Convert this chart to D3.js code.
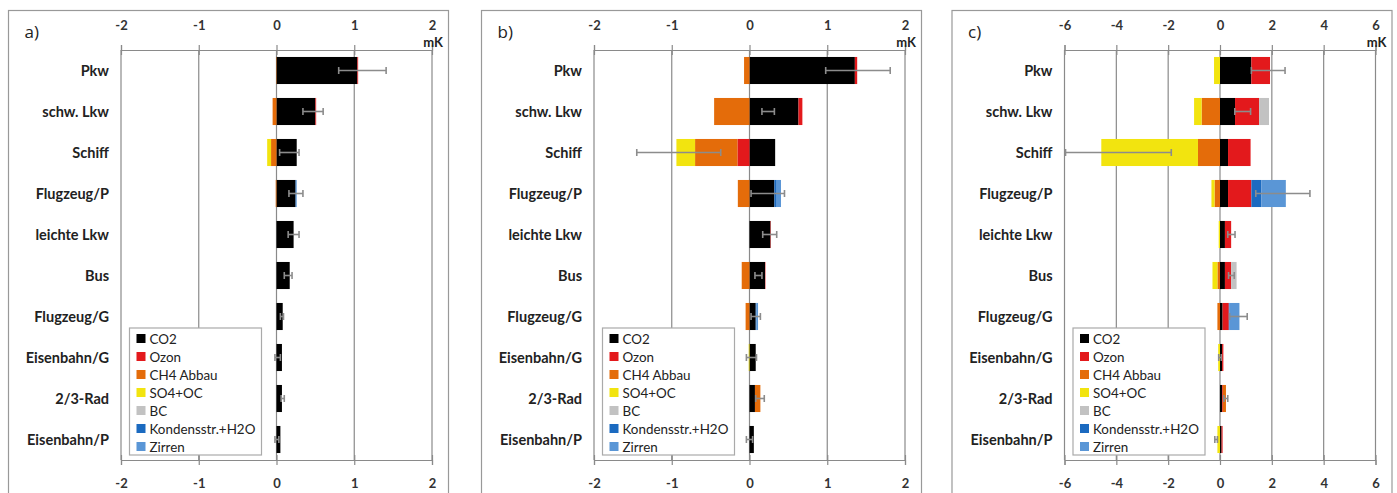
<!DOCTYPE html>
<html><head><meta charset="utf-8">
<script src="https://cdn.jsdelivr.net/npm/d3@7"></script>
<style>
html,body{margin:0;padding:0;background:#fff;}
svg{display:block;}
</style></head>
<body>
<svg id="chart" width="1397" height="493"></svg>
<script>
// ---------- data ----------
const categories = ["Pkw","schw. Lkw","Schiff","Flugzeug/P","leichte Lkw","Bus","Flugzeug/G","Eisenbahn/G","2/3-Rad","Eisenbahn/P"];
const seriesNames = ["CO2","Ozon","CH4 Abbau","SO4+OC","BC","Kondensstr.+H2O","Zirren"];
const seriesColors = ["#000000","#e3191c","#e46c0a","#f2e40f","#c2c2c2","#1b6ac0","#5a96d6"];
const panelLabels = ["a)","b)","c)"];
const ticksAB = [-2,-1,0,1,2];
const ticksC = [-6,-4,-2,0,2,4,6];

// panel a
const a_CO2   = [1.04, 0.50, 0.26, 0.245, 0.22, 0.17, 0.08, 0.07, 0.07, 0.05];
const a_Ozon  = [0.01, 0.01, 0, 0, 0, 0, 0, 0, 0, 0];
const a_CH4   = [-0.005, -0.05, -0.07, -0.01, 0, 0, 0, 0, 0, 0];
const a_SO4   = [0, 0, -0.05, 0, 0, 0, 0, 0, 0, 0];
const a_BC    = [0, 0, 0, 0, 0, 0, 0, 0, 0, 0];
const a_Kond  = [0, 0, 0, 0.005, 0, 0, 0, 0, 0, 0];
const a_Zirr  = [0, 0, 0, 0.01, 0, 0, 0, 0, 0, 0];
const a_errLo = [0.80, 0.34, 0.04, 0.16, 0.15, 0.10, 0.05, -0.02, 0.06, -0.02];
const a_errHi = [1.41, 0.60, 0.29, 0.34, 0.29, 0.20, 0.09, 0.05, 0.10, 0.03];

// panel b
const b_CO2   = [1.355, 0.63, 0.33, 0.32, 0.27, 0.20, 0.08, 0.08, 0.07, 0.056];
const b_Ozon  = [0.03, 0.05, -0.155, 0, 0.005, 0.005, 0, 0, 0, 0];
const b_CH4   = [-0.07, -0.455, -0.545, -0.15, 0, -0.10, -0.05, 0, 0.07, 0];
const b_SO4   = [0, 0, -0.24, 0, 0, 0, 0, -0.01, 0, 0];
const b_BC    = [0, 0, 0, 0, 0, 0, 0, 0, 0, 0];
const b_Kond  = [0, 0, 0, 0.03, 0, 0, 0.01, 0, 0, 0];
const b_Zirr  = [0, 0, 0, 0.055, 0, 0, 0.02, 0, 0, 0];
const b_errLo = [0.98, 0.16, -1.45, 0.02, 0.17, 0.07, 0.02, -0.04, 0.08, -0.04];
const b_errHi = [1.81, 0.32, -0.37, 0.45, 0.35, 0.16, 0.14, 0.09, 0.19, 0.04];

// panel c
const c_CO2   = [1.21, 0.58, 0.31, 0.31, 0.19, 0.19, 0.10, 0.08, 0.08, 0.06];
const c_Ozon  = [0.72, 0.93, 0.87, 0.90, 0.24, 0.24, 0.24, 0.05, 0.03, 0.04];
const c_CH4   = [0, -0.71, -0.85, -0.21, 0, -0.10, -0.10, 0, 0.12, 0];
const c_SO4   = [-0.23, -0.29, -3.73, -0.12, -0.05, -0.19, 0, -0.07, 0, -0.10];
const c_BC    = [0, 0.38, 0, 0, 0, 0.21, 0, 0, 0, 0];
const c_Kond  = [0, 0, 0, 0.39, 0, 0, 0.03, 0, 0, 0];
const c_Zirr  = [0, 0, 0, 0.94, 0, 0, 0.38, 0, 0, 0];
const c_errLo = [1.21, 0.57, -5.96, 1.38, 0.30, 0.33, 0.37, -0.05, 0.15, -0.20];
const c_errHi = [2.51, 1.18, -1.88, 3.47, 0.58, 0.55, 1.05, 0.05, 0.30, -0.10];

const panels = [
  {series:[a_CO2,a_Ozon,a_CH4,a_SO4,a_BC,a_Kond,a_Zirr], lo:a_errLo, hi:a_errHi, domain:[-2,2], ticks:ticksAB},
  {series:[b_CO2,b_Ozon,b_CH4,b_SO4,b_BC,b_Kond,b_Zirr], lo:b_errLo, hi:b_errHi, domain:[-2,2], ticks:ticksAB},
  {series:[c_CO2,c_Ozon,c_CH4,c_SO4,c_BC,c_Kond,c_Zirr], lo:c_errLo, hi:c_errHi, domain:[-6,6], ticks:ticksC}
];

// ---------- drawing ----------
const svg = d3.select("#chart");
const panelX = [8.5, 481.5, 952];
const frameW = 440;
const plotLeft = 112.5, plotW = 311;
const plotTop = 50, plotBottom = 460;
const gridColor = "#8a8a8a";
const fontLabel = "Lato, 'Open Sans', sans-serif";
const fmt = d => String(d);

panels.forEach((p, pi) => {
  const g = svg.append("g").attr("transform", `translate(${panelX[pi]},0)`);
  // frame
  g.append("rect").attr("x",0).attr("y",10.5).attr("width",frameW).attr("height",500)
    .attr("fill","none").attr("stroke","#999").attr("stroke-width",1.2);

  const x = d3.scaleLinear().domain(p.domain).range([plotLeft, plotLeft+plotW]);
  const y = d3.scaleBand().domain(categories).range([plotTop, plotBottom]).paddingInner(0.34).paddingOuter(0.17);

  // gridlines
  g.append("g").selectAll("line").data(p.ticks).join("line")
    .attr("x1", d=>x(d)).attr("x2", d=>x(d)).attr("y1", plotTop).attr("y2", plotBottom)
    .attr("stroke", gridColor).attr("stroke-width",1.2);

  // top axis
  const axTop = g.append("g").attr("transform",`translate(0,${plotTop})`)
    .call(d3.axisTop(x).tickValues(p.ticks).tickSize(5).tickPadding(15).tickFormat(fmt));
  axTop.select(".domain").attr("stroke", gridColor).attr("stroke-width",1.2);
  axTop.selectAll(".tick line").attr("stroke", gridColor).attr("stroke-width",1.2).attr("y2",-5).attr("y1",5);
  axTop.selectAll(".tick text").attr("font-family",fontLabel).attr("font-weight","bold").attr("font-size",13).attr("fill","#333");

  // bottom axis
  const axBot = g.append("g").attr("transform",`translate(0,${plotBottom})`)
    .call(d3.axisBottom(x).tickValues(p.ticks).tickSize(5).tickPadding(14).tickFormat(fmt));
  axBot.select(".domain").attr("stroke", gridColor).attr("stroke-width",1.2);
  axBot.selectAll(".tick line").attr("stroke", gridColor).attr("stroke-width",1.2).attr("y1",-5).attr("y2",5);
  axBot.selectAll(".tick text").attr("font-family",fontLabel).attr("font-weight","bold").attr("font-size",13).attr("fill","#333");

  // unit
  g.append("text").attr("x", plotLeft+plotW+11).attr("y", 47).attr("text-anchor","end")
    .attr("font-family",fontLabel).attr("font-weight","bold").attr("font-size",13).attr("fill","#222").text("mK");

  // panel label
  g.append("text").attr("x", 16).attr("y", 38).attr("font-family","'Open Sans', sans-serif")
    .attr("font-size",17).attr("fill","#222").text(panelLabels[pi]);

  // category labels
  g.append("g").selectAll("text").data(categories).join("text")
    .attr("x", plotLeft-12).attr("y", d=>y(d)+y.bandwidth()/2).attr("dy","0.35em")
    .attr("text-anchor","end").attr("font-family",fontLabel).attr("font-weight","bold")
    .attr("font-size",14.5).attr("fill","#222").text(d=>d);

  // stacked bars
  const rows = categories.map((c,i)=>{
    const o = {cat:c};
    seriesNames.forEach((s,k)=>{ o[s] = p.series[k][i]; });
    return o;
  });
  const stack = d3.stack().keys(seriesNames).offset(d3.stackOffsetDiverging)(rows);
  g.append("g").selectAll("g").data(stack).join("g")
    .attr("fill",(d,k)=>seriesColors[k])
    .selectAll("rect").data(d=>d).join("rect")
    .attr("x", d=>x(Math.min(d[0],d[1])))
    .attr("width", d=>Math.abs(x(d[1])-x(d[0])))
    .attr("y", d=>y(d.data.cat)).attr("height", y.bandwidth());

  // error bars
  const eg = g.append("g").attr("stroke","#8c8c8c").attr("stroke-width",1.6);
  categories.forEach((c,i)=>{
    const cy = y(c)+y.bandwidth()/2;
    const x1 = x(p.lo[i]), x2 = x(p.hi[i]);
    eg.append("line").attr("x1",x1).attr("x2",x2).attr("y1",cy).attr("y2",cy);
    eg.append("line").attr("x1",x1).attr("x2",x1).attr("y1",cy-3.5).attr("y2",cy+3.5);
    eg.append("line").attr("x1",x2).attr("x2",x2).attr("y1",cy-3.5).attr("y2",cy+3.5);
  });

  // legend
  const lx = plotLeft + 8.5, ly = 328;
  const lg = g.append("g").attr("transform",`translate(${lx},${ly})`);
  lg.append("rect").attr("x",0).attr("y",0).attr("width",132).attr("height",127)
    .attr("fill","#fff").attr("stroke","#aaa").attr("stroke-width",1.2);
  seriesNames.forEach((s,k)=>{
    const yy = 11 + k*18;
    lg.append("rect").attr("x",7).attr("y",yy-5).attr("width",9).attr("height",9).attr("fill",seriesColors[k]);
    lg.append("text").attr("x",20).attr("y",yy).attr("dy","0.35em")
      .attr("font-family",fontLabel).attr("font-size",13.4).attr("fill","#222").text(s);
  });
});
</script>
</body></html>
